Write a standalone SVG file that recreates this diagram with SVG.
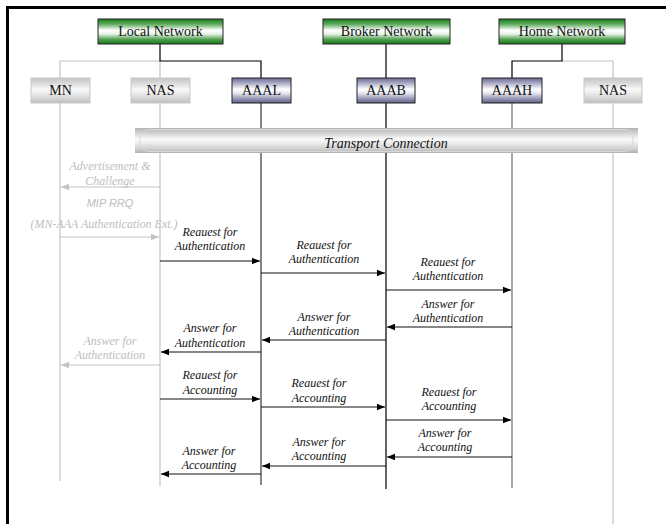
<svg xmlns="http://www.w3.org/2000/svg" width="666" height="524" viewBox="0 0 666 524">
<defs>
<linearGradient id="gGreen" x1="0" y1="0" x2="0" y2="1">
<stop offset="0" stop-color="#1a7d1a"/><stop offset="0.2" stop-color="#5aa85a"/><stop offset="0.45" stop-color="#ffffff"/><stop offset="0.6" stop-color="#e6f2e6"/><stop offset="0.82" stop-color="#4f9f4f"/><stop offset="1" stop-color="#167816"/>
</linearGradient>
<linearGradient id="gPurple" x1="0" y1="0" x2="0" y2="1">
<stop offset="0" stop-color="#6a6a92"/><stop offset="0.2" stop-color="#a8a8c4"/><stop offset="0.45" stop-color="#ffffff"/><stop offset="0.6" stop-color="#e8e8f0"/><stop offset="0.82" stop-color="#9999b8"/><stop offset="1" stop-color="#5e5e88"/>
</linearGradient>
<linearGradient id="gGray" x1="0" y1="0" x2="0" y2="1">
<stop offset="0" stop-color="#c4c4c4"/><stop offset="0.25" stop-color="#dedede"/><stop offset="0.45" stop-color="#f8f8f8"/><stop offset="0.6" stop-color="#ececec"/><stop offset="0.82" stop-color="#d4d4d4"/><stop offset="1" stop-color="#bdbdbd"/>
</linearGradient>
<linearGradient id="gPipe" x1="0" y1="0" x2="0" y2="1">
<stop offset="0" stop-color="#b4b4b4"/><stop offset="0.2" stop-color="#d2d2d2"/><stop offset="0.45" stop-color="#fbfbfb"/><stop offset="0.6" stop-color="#ececec"/><stop offset="0.85" stop-color="#cdcdcd"/><stop offset="1" stop-color="#b0b0b0"/>
</linearGradient>
<marker id="ah" viewBox="0 0 10 10" refX="10" refY="5" markerWidth="8" markerHeight="8" markerUnits="userSpaceOnUse" orient="auto">
<path d="M0,1 L10,5 L0,9 Z" fill="#000"/>
</marker>
<marker id="ahg" viewBox="0 0 10 10" refX="10" refY="5" markerWidth="8" markerHeight="8" markerUnits="userSpaceOnUse" orient="auto">
<path d="M0,1 L10,5 L0,9 Z" fill="#c4c4c4"/>
</marker>
</defs>
<style>
.net{fill:url(#gGreen);stroke:#222;stroke-width:1}
.aaa{fill:url(#gPurple);stroke:#222;stroke-width:1}
.gry{fill:url(#gGray);stroke:#c8c8c8;stroke-width:1}
.lbl{font-family:"Liberation Serif","Times New Roman",serif;font-size:14px;fill:#111;text-anchor:middle}
.msg{font-family:"Liberation Serif","Times New Roman",serif;font-size:12px;font-style:italic;fill:#111;text-anchor:middle}
.gmsg{font-family:"Liberation Serif","Times New Roman",serif;font-size:12px;font-style:italic;fill:#bdbdbd;text-anchor:middle}
.gsans{font-family:"Liberation Sans",Arial,sans-serif;font-size:11px;font-style:italic;fill:#bdbdbd;text-anchor:middle}
.lk{fill:none;stroke:#000;stroke-width:1.2}
.lkg{fill:none;stroke:#c4c4c4;stroke-width:1.2}
.ll{fill:none;stroke-width:1.3}
.ar{stroke:#111;stroke-width:1.2;marker-end:url(#ah)}
.arg{stroke:#c4c4c4;stroke-width:1.2;marker-end:url(#ahg)}
</style>
<rect width="666" height="524" fill="#fff"/>
<path d="M7.5,524 V7.5 H666" fill="none" stroke="#000" stroke-width="3"/>

<g id="connectors">
<path class="lkg" d="M60,78 V61 H160 V78"/>
<path class="lk" d="M160,44 V61 H261 V78"/>
<path class="lk" d="M386,44 V78"/>
<path class="lkg" d="M562,61 H613 V78"/>
<path class="lk" d="M562,44 V61 H512 V78" stroke="#333"/>
<path class="ll" d="M60,103 V481" stroke="#c8c8c8"/>
<path class="ll" d="M160,103 V486" stroke="#c8c8c8"/>
<path class="ll" d="M261,103 V485" stroke="#444"/>
<path class="ll" d="M386,103 V489" stroke="#111"/>
<path class="ll" d="M512,103 V488" stroke="#777"/>
<path class="ll" d="M613,103 V524" stroke="#c8c8c8"/>
</g>

<g id="transport">
<rect x="135" y="128" width="503" height="25" fill="url(#gPipe)"/>
<path d="M147,129.5 H626 A10,11.5 0 0 1 626,151.5 H147 A10,11.5 0 0 1 147,129.5 Z" fill="none" stroke="#d8d8d8" stroke-width="1"/>
<text x="386" y="148" class="lbl" font-style="italic">Transport Connection</text>
</g>

<g id="local-network"><rect class="net" x="98" y="19" width="125" height="25"/><text class="lbl" x="160.5" y="36">Local Network</text></g>
<g id="broker-network"><rect class="net" x="323" y="19" width="127" height="25"/><text class="lbl" x="386.5" y="36">Broker Network</text></g>
<g id="home-network"><rect class="net" x="499" y="19" width="126" height="25"/><text class="lbl" x="562" y="36">Home Network</text></g>

<g id="mn"><rect class="gry" x="31" y="78" width="59" height="25"/><text class="lbl" x="60.5" y="95">MN</text></g>
<g id="nas-local"><rect class="gry" x="131" y="78" width="59" height="25"/><text class="lbl" x="160.5" y="95">NAS</text></g>
<g id="aaal"><rect class="aaa" x="232" y="78" width="59" height="25"/><text class="lbl" x="261.5" y="95">AAAL</text></g>
<g id="aaab"><rect class="aaa" x="357" y="78" width="58" height="25"/><text class="lbl" x="386" y="95">AAAB</text></g>
<g id="aaah"><rect class="aaa" x="482" y="78" width="60" height="25"/><text class="lbl" x="512" y="95">AAAH</text></g>
<g id="nas-home"><rect class="gry" x="584" y="78" width="58" height="25"/><text class="lbl" x="613" y="95">NAS</text></g>

<g id="messages">
<line class="arg" x1="160" y1="187" x2="61" y2="187"/>
<text class="gmsg" x="110" y="170">Advertisement &amp;</text>
<text class="gmsg" x="110" y="185">Challenge</text>
<text class="gsans" x="110" y="207">MIP RRQ</text>
<text class="gmsg" x="104" y="228">(MN-AAA Authentication Ext.)</text>
<line class="arg" x1="60" y1="237" x2="159" y2="237"/>
<text class="gmsg" x="110" y="345">Answer for</text>
<text class="gmsg" x="110" y="359">Authentication</text>
<line class="arg" x1="160" y1="365" x2="61" y2="365"/>

<text class="msg" x="210" y="236">Reauest for</text>
<text class="msg" x="210" y="250">Authentication</text>
<line class="ar" x1="160" y1="261" x2="260" y2="261"/>
<text class="msg" x="324" y="249">Reauest for</text>
<text class="msg" x="324" y="263">Authentication</text>
<line class="ar" x1="261" y1="273" x2="385" y2="273"/>
<text class="msg" x="448" y="266">Reauest for</text>
<text class="msg" x="448" y="280">Authentication</text>
<line class="ar" x1="386" y1="290" x2="511" y2="290"/>
<text class="msg" x="448" y="308">Answer for</text>
<text class="msg" x="448" y="322">Authentication</text>
<line class="ar" x1="512" y1="327" x2="387" y2="327"/>
<text class="msg" x="324" y="321">Answer for</text>
<text class="msg" x="324" y="335">Authentication</text>
<line class="ar" x1="386" y1="340" x2="262" y2="340"/>
<text class="msg" x="210" y="332">Answer for</text>
<text class="msg" x="210" y="347">Authentication</text>
<line class="ar" x1="261" y1="352" x2="161" y2="352"/>

<text class="msg" x="210" y="379">Reauest for</text>
<text class="msg" x="210" y="394">Accounting</text>
<line class="ar" x1="160" y1="399" x2="260" y2="399"/>
<text class="msg" x="319" y="387">Reauest for</text>
<text class="msg" x="319" y="402">Accounting</text>
<line class="ar" x1="261" y1="407" x2="385" y2="407"/>
<text class="msg" x="449" y="396">Reauest for</text>
<text class="msg" x="449" y="410">Accounting</text>
<line class="ar" x1="386" y1="420" x2="511" y2="420"/>
<text class="msg" x="445" y="437">Answer for</text>
<text class="msg" x="445" y="451">Accounting</text>
<line class="ar" x1="512" y1="457" x2="387" y2="457"/>
<text class="msg" x="319" y="446">Answer for</text>
<text class="msg" x="319" y="460">Accounting</text>
<line class="ar" x1="386" y1="466" x2="262" y2="466"/>
<text class="msg" x="209" y="455">Answer for</text>
<text class="msg" x="209" y="469">Accounting</text>
<line class="ar" x1="261" y1="474" x2="161" y2="474"/>
</g>
</svg>
